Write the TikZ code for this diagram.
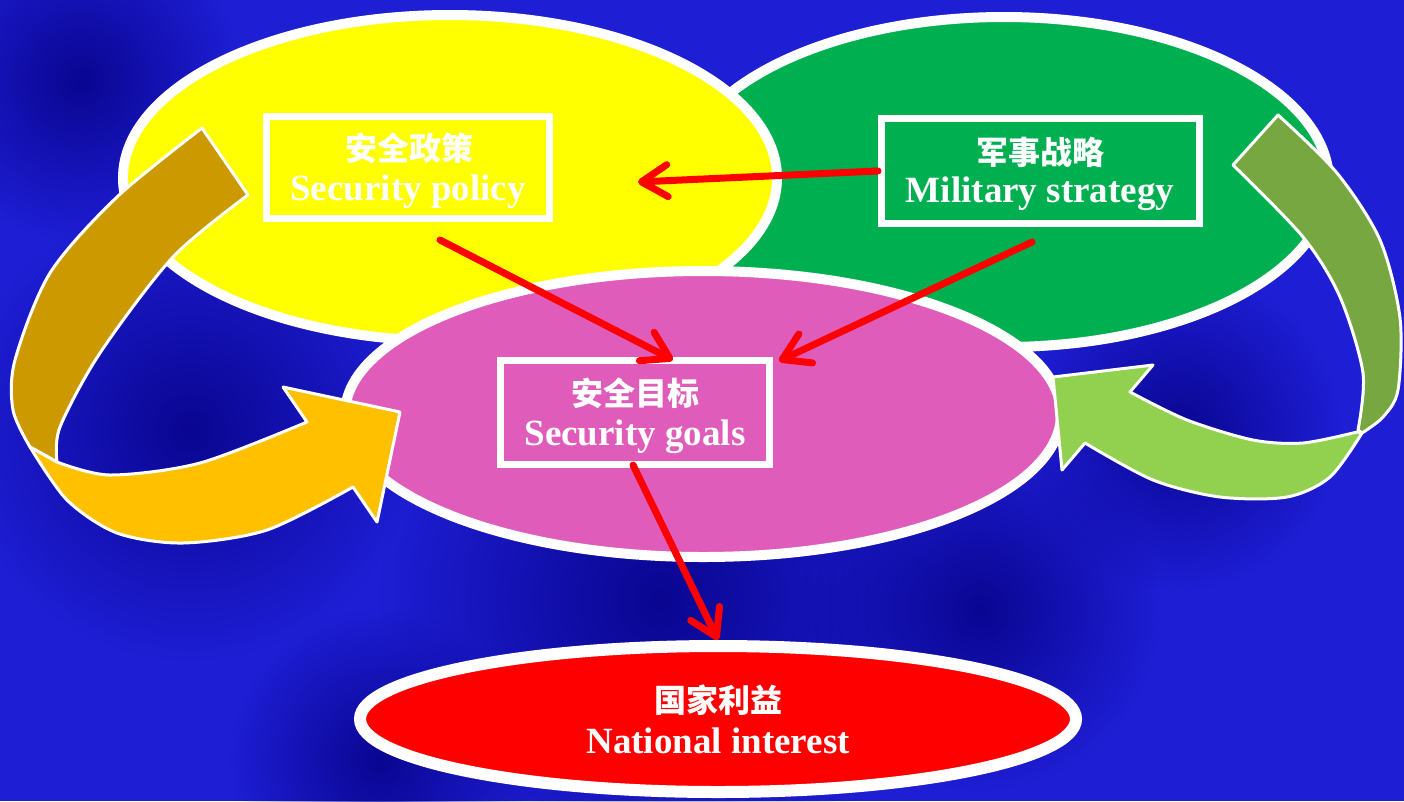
\documentclass[tikz,border=0pt]{standalone}
\usepackage{fontspec}
\setmainfont{Liberation Serif}
\newfontfamily\cjk{Noto Sans CJK SC}
\usetikzlibrary{shapes.geometric,arrows.meta,fadings}
\tikzfading[name=softspot, inner color=transparent!0, outer color=transparent!100]
\definecolor{bgblue}{RGB}{30,30,212}
\definecolor{bgdark}{RGB}{10,6,145}
\definecolor{ellyellow}{RGB}{255,255,0}
\definecolor{ellgreen}{RGB}{0,176,80}
\definecolor{ellpink}{RGB}{224,92,186}
\definecolor{ellred}{RGB}{255,0,0}
\definecolor{arrtan}{RGB}{204,153,0}
\definecolor{arrorange}{RGB}{255,192,0}
\definecolor{arrolive}{RGB}{118,167,64}
\definecolor{arrlime}{RGB}{146,208,80}
\begin{document}
\begin{tikzpicture}[x=1pt,y=-1pt,
  blob/.style={ellipse, draw=white, line width=10pt, inner sep=0pt},
  labelbox/.style={draw=white, line width=7pt, inner sep=0pt},
  entext/.style={font=\bfseries\fontsize{37}{40}\selectfont, text=white, anchor=base, inner sep=0pt},
  zhtext/.style={font=\cjk\bfseries\fontsize{32}{35}\selectfont, text=white, inner sep=0pt},
  ribbon/.style={draw=white, line width=3pt, line join=round},
  darkpatch/.style={fill=bgdark, path fading=softspot},
  redarrow/.style={draw=red, line width=7pt, line cap=round, -{Straight Barb[length=26pt,width=32pt,round]}}
]
\useasboundingbox (0,0) rectangle (1404,801);
% background
\fill[bgblue] (0,0) rectangle (1404,801);
\fill[darkpatch] (190,430) circle (230pt);
\fill[darkpatch] (660,600) circle (280pt);
\fill[darkpatch] (980,610) circle (180pt);
\fill[darkpatch] (80,80) circle (160pt);
\fill[darkpatch] (1180,430) circle (160pt);
\fill[darkpatch] (380,760) circle (150pt);

% ellipses
\node[blob, fill=ellgreen, minimum width=650pt, minimum height=330pt] (greenell) at (1004,182) {};
\node[blob, fill=ellyellow, minimum width=654pt, minimum height=326pt] (yellowell) at (450,178) {};
\node[blob, fill=ellpink, minimum width=716pt, minimum height=286pt] (pinkell) at (703,414) {};
\node[blob, fill=ellred, line width=12pt, minimum width=716pt, minimum height=146pt] (natl) at (718,719) {};

% left curved arrow
\filldraw[ribbon, fill=arrtan] (202,128) -- plot[smooth] coordinates {(248,195) (173,257) (100,353) (60,427) (57,462)}
  -- (30,447) -- plot[smooth] coordinates {(30,447) (13,410) (15,360) (50,273) (117,197) (202,128)} -- cycle;
\filldraw[ribbon, fill=arrorange] (30,447) -- plot[smooth] coordinates {(30,447) (67,500) (117,533) (183,543) (267,530) (353,487)}
  -- (377,522) -- (400,412) -- (283,387) -- (307,422)
  -- plot[smooth] coordinates {(307,422) (200,463) (110,475) (57,462)} -- cycle;

% right curved arrow
\filldraw[ribbon, fill=arrolive] (1233,165) -- (1278,115) -- plot[smooth] coordinates {(1278,115) (1337,173) (1380,240) (1400,318) (1398,390) (1383,417) (1362,433)}
  -- plot[smooth] coordinates {(1358,430) (1363,373) (1340,297) (1303,237) (1233,165)} -- cycle;
\filldraw[ribbon, fill=arrlime] (1362,433) -- plot[smooth] coordinates {(1362,433) (1330,477) (1287,497) (1220,497) (1153,480) (1085,443)}
  -- (1062,470) -- (1053,377) -- (1153,365) -- (1130,392)
  -- plot[smooth] coordinates {(1130,392) (1187,420) (1253,440) (1303,443) (1357,432)} -- cycle;

% label boxes
\node[labelbox, minimum width=283pt, minimum height=102pt] (pol) at (408,167.5) {};
\node[labelbox, minimum width=318pt, minimum height=105pt] (mil) at (1040.5,171) {};
\node[labelbox, minimum width=269pt, minimum height=104pt] (goals) at (635,412.5) {};

% texts
\node[zhtext] (polzh) at (409,148) {安全政策};
\node[entext] (polen) at (408,200) {Security policy};
\node[zhtext] (milzh) at (1040,152) {军事战略};
\node[entext] (milen) at (1040,202) {Military strategy};
\node[zhtext] (goalszh) at (635,393) {安全目标};
\node[entext] (goalsen) at (635,445) {Security goals};
\node[zhtext] (natlzh) at (718,700) {国家利益};
\node[entext] (natlen) at (718,753) {National interest};

% red arrows
\coordinate (a1tip) at (638,182);
\coordinate (a2start) at (440,240);
\coordinate (a2tip) at (673,360);
\coordinate (a3start) at (1032,242);
\coordinate (a3tip) at (779,361);
\coordinate (a4start) at (633,465);
\draw[redarrow] (mil.west) -- (a1tip);
\draw[redarrow] (a2start) -- (a2tip);
\draw[redarrow] (a3start) -- (a3tip);
\draw[redarrow] (a4start) -- (natl.north);
\end{tikzpicture}
\end{document}
